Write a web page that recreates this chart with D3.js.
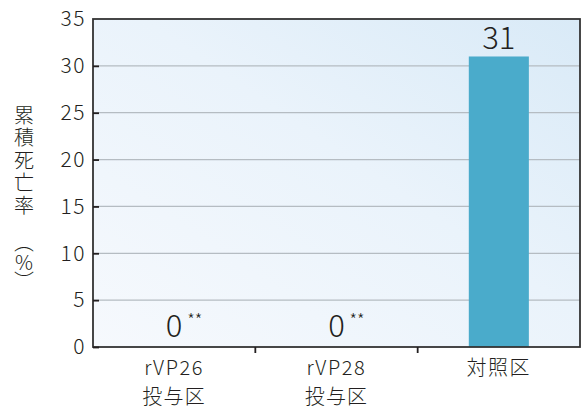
<!DOCTYPE html>
<html>
<head>
<meta charset="utf-8">
<script src="https://cdn.jsdelivr.net/npm/d3@7"></script>
<style>
  body { margin: 0; background: #fff; }
  text { font-family: "Noto Sans CJK JP", "Noto Sans", sans-serif; font-weight: 300; fill: #231f20; }
</style>
</head>
<body>
<svg width="583" height="410"></svg>
<script>
const categories = ["rVP26\n投与区", "rVP28\n投与区", "対照区"]
const values = [0, 0, 31]
const marks = ["**", "**", ""]
const yTicks = [0, 5, 10, 15, 20, 25, 30, 35]
const yTitle = ["累", "積", "死", "亡", "率", "︵", "%", "︶"]

const svg = d3.select("svg")
const margin = { top: 19, right: 3, bottom: 63, left: 93 }
const width = 583 - margin.left - margin.right
const height = 410 - margin.top - margin.bottom

const defs = svg.append("defs")
const grad = defs.append("linearGradient")
    .attr("id", "bg")
    .attr("x1", "0%").attr("y1", "100%")
    .attr("x2", "100%").attr("y2", "0%")
grad.append("stop").attr("offset", "0%").attr("stop-color", "#f6f9fd")
grad.append("stop").attr("offset", "55%").attr("stop-color", "#eaf3fb")
grad.append("stop").attr("offset", "100%").attr("stop-color", "#d9eaf7")

const g = svg.append("g").attr("transform", `translate(${margin.left},${margin.top})`)

const x = d3.scaleBand().domain(categories).range([0, width]).paddingInner(0.63).paddingOuter(0.315)
const y = d3.scaleLinear().domain([0, 35]).range([height, 0])

g.append("rect")
    .attr("width", width)
    .attr("height", height)
    .attr("fill", "url(#bg)")

// grid
g.selectAll(".grid")
    .data(yTicks.filter(d => d > 0 && d < 35))
    .enter().append("line")
    .attr("x1", 0).attr("x2", width)
    .attr("y1", d => y(d)).attr("y2", d => y(d))
    .attr("stroke", "#b5bcc2")
    .attr("stroke-width", 1.2)

// bars
g.selectAll(".bar")
    .data(values)
    .enter().append("rect")
    .attr("x", (d, i) => x(categories[i]))
    .attr("y", d => y(d))
    .attr("width", x.bandwidth())
    .attr("height", d => height - y(d))
    .attr("fill", "#4aabcb")

// border
g.append("rect")
    .attr("width", width)
    .attr("height", height)
    .attr("fill", "none")
    .attr("stroke", "#333")
    .attr("stroke-width", 1.8)

// y axis
const yAxis = g.append("g")
    .call(d3.axisLeft(y).tickValues(yTicks).tickSize(-6).tickPadding(7))
yAxis.select(".domain").remove()
yAxis.selectAll(".tick line").attr("stroke", "#231f20").attr("stroke-width", 1.8)
yAxis.selectAll(".tick text")
    .attr("font-size", 21)
    .attr("letter-spacing", 1.5)
    .attr("font-family", null)
    .attr("fill", "#231f20")
yAxis.selectAll(".tick").filter(d => d === 35).select("line").remove()

// x axis
const xAxis = g.append("g")
    .attr("transform", `translate(0,${height})`)
    .call(d3.axisBottom(x).tickSize(0).tickFormat(""))
xAxis.select(".domain").remove()

g.selectAll(".xtick")
    .data([1, 2])
    .enter().append("line")
    .attr("x1", d => d * width / 3).attr("x2", d => d * width / 3)
    .attr("y1", height).attr("y2", height + 6)
    .attr("stroke", "#231f20")
    .attr("stroke-width", 1.8)

// category labels, one text per line
categories.forEach((c, i) => {
  c.split("\n").forEach((l, j) => {
    g.append("text")
        .attr("x", x(c) + x.bandwidth() / 2)
        .attr("y", height + 28 + j * 29)
        .attr("text-anchor", "middle")
        .attr("font-size", 20)
        .attr("letter-spacing", j === 0 ? 1.6 : 1.2)
        .text(l)
  })
})

// value labels
values.forEach((v, i) => {
  const cx = x(categories[i]) + x.bandwidth() / 2
  g.append("text")
      .attr("x", cx)
      .attr("y", y(v) - (v === 0 ? 10 : 8))
      .attr("text-anchor", "middle")
      .attr("font-size", 31)
      .text(v)
  if (marks[i]) {
    g.append("text")
        .attr("x", cx + 13)
        .attr("y", y(v) - 21)
        .attr("font-size", 17)
        .text(marks[i])
  }
})

// y title: one text, each glyph stacked
const titleY = [122.5, 145, 167.5, 190, 212.5, 250, 269.5, 289]
svg.append("text")
    .attr("x", yTitle.map(() => 24).join(" "))
    .attr("y", titleY.join(" "))
    .attr("text-anchor", "middle")
    .attr("font-size", 20)
    .text(yTitle.join(""))
</script>
</body>
</html>
